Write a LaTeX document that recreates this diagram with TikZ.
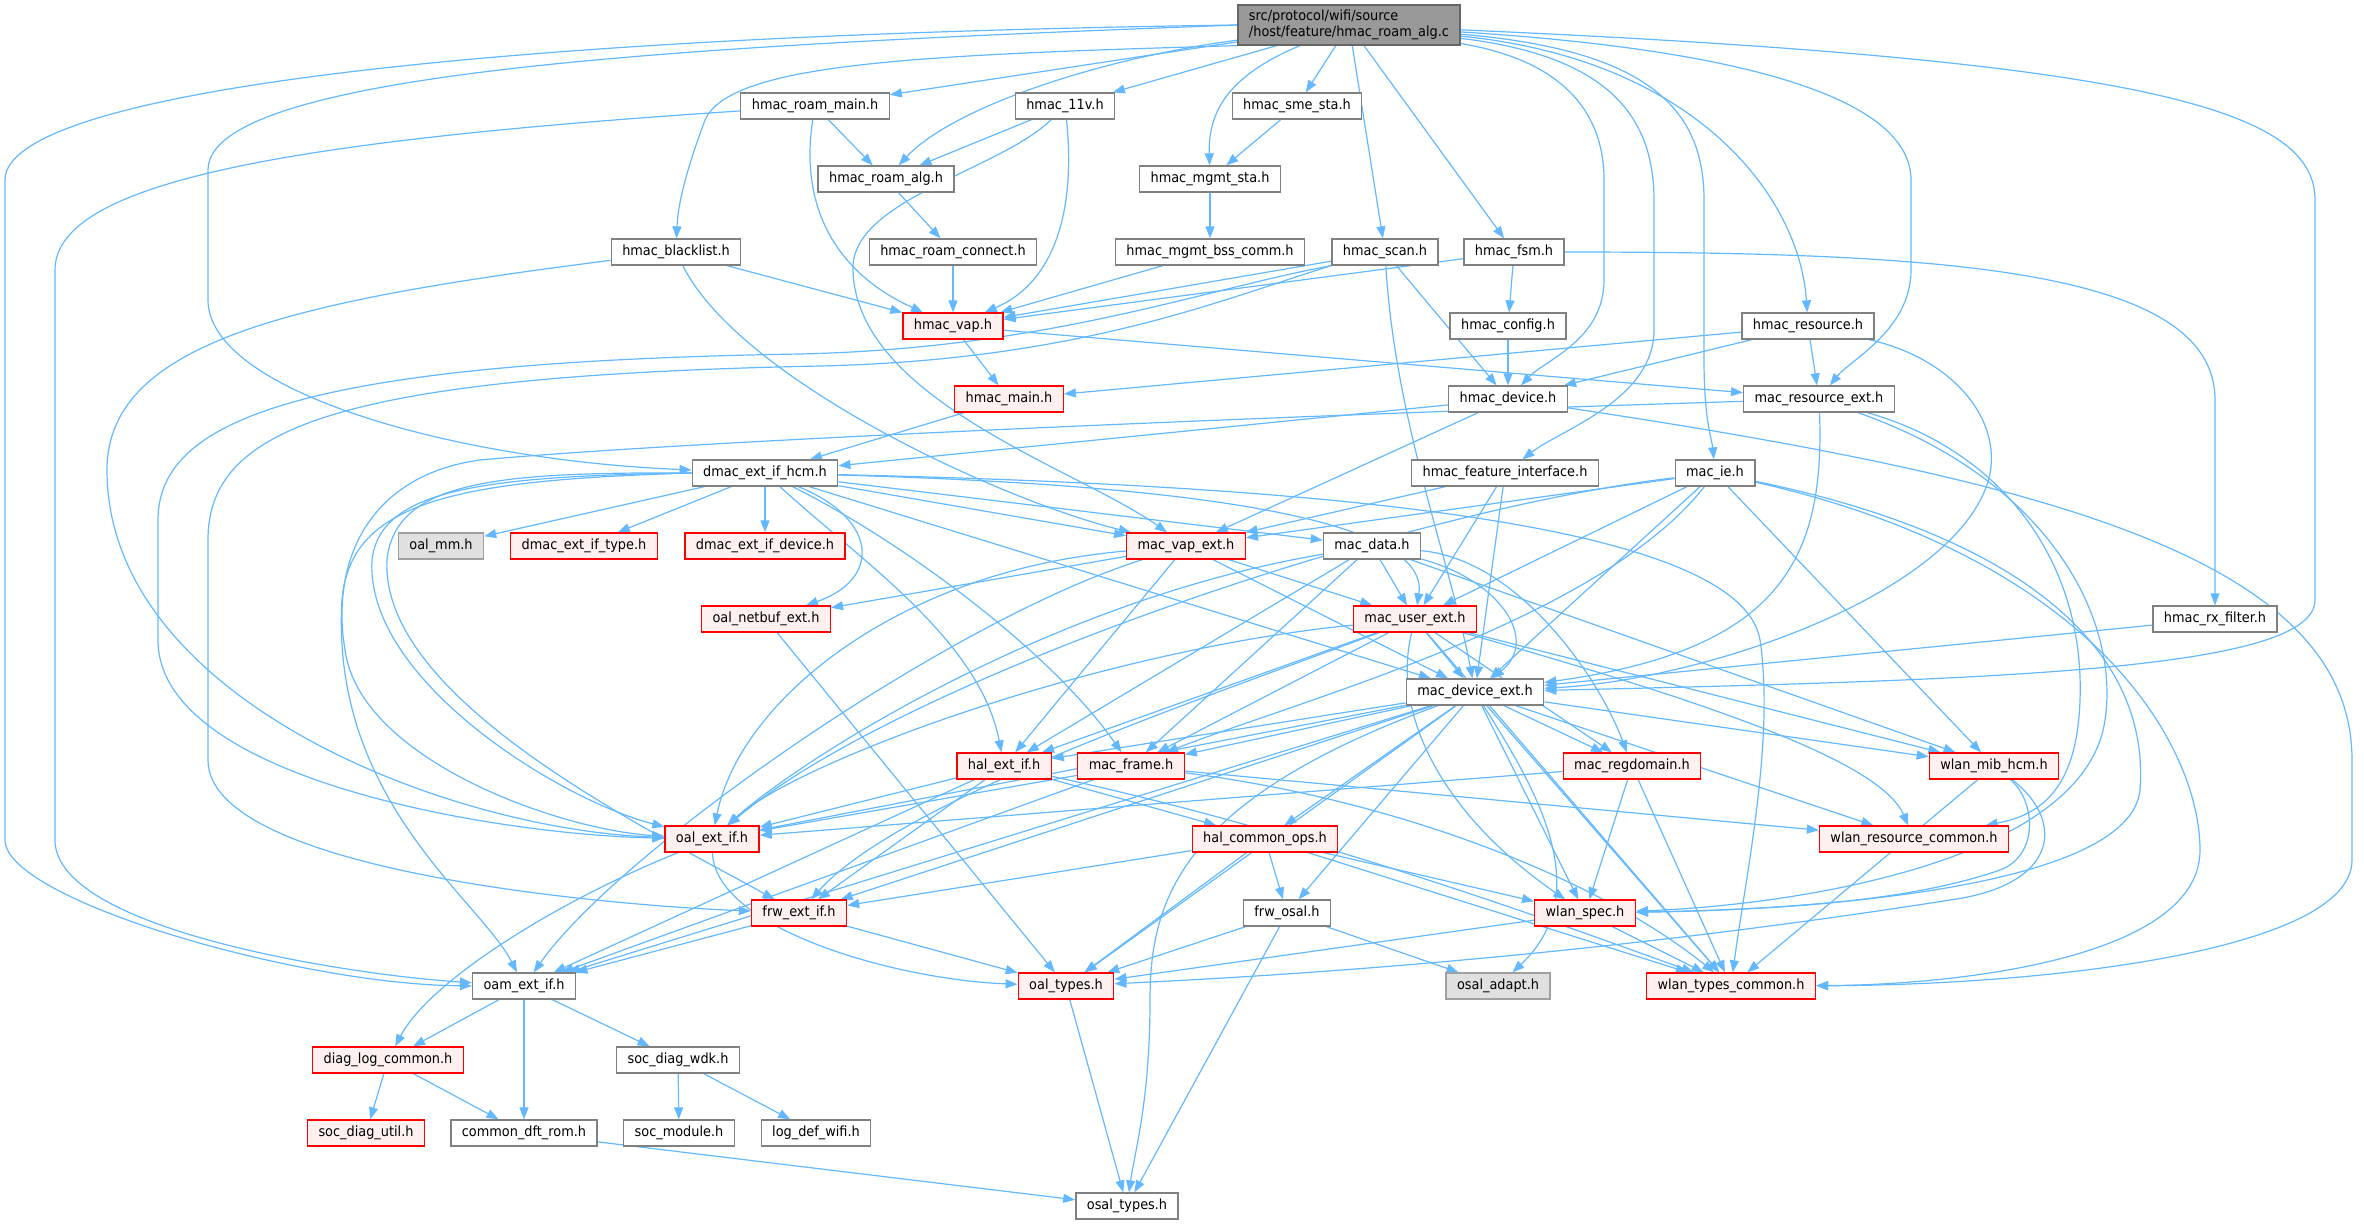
\documentclass[tikz,border=0pt]{standalone}
\usepackage{fontspec}
\setmainfont{DejaVu Sans}[FakeStretch=0.92]
\usetikzlibrary{arrows.meta}
\definecolor{linkblue}{HTML}{63B8FF}
\definecolor{boxgray}{HTML}{808080}
\definecolor{redfill}{HTML}{FFF0F0}
\definecolor{nodocfill}{HTML}{E0E0E0}
\definecolor{nodocline}{HTML}{A0A0A0}
\definecolor{rootfill}{HTML}{999999}
\pgfdeclarelayer{edges}
\pgfsetlayers{edges,main}
\tikzset{
  filebox/.style={draw=boxgray, line width=1.3pt, fill=white, minimum height=26pt, inner xsep=11pt, inner ysep=2pt, font=\fontsize{14}{16}\selectfont},
  redbox/.style={filebox, draw=red, fill=redfill},
  graybox/.style={filebox, draw=nodocline, fill=nodocfill},
  rootbox/.style={filebox, draw=boxgray!80!black, fill=rootfill, align=left, minimum height=40pt},
  incl/.style={draw=linkblue, line width=1.2pt, -{Triangle[length=12pt,width=9pt]}}
}

\begin{document}
\begin{tikzpicture}[x=1pt,y=-1pt]
\useasboundingbox (0,0) rectangle (2364,1224);
\node (root) [rootbox] at (1349,25) {src/protocol/wifi/source\\/host/feature/hmac\_roam\_alg.c};
\node (roammain) [filebox] at (815,106) {hmac\_roam\_main.h};
\node (h11v) [filebox] at (1065,106) {hmac\_11v.h};
\node (smesta) [filebox] at (1297,106) {hmac\_sme\_sta.h};
\node (roamalg) [filebox] at (886,179) {hmac\_roam\_alg.h};
\node (mgmtsta) [filebox] at (1210,179) {hmac\_mgmt\_sta.h};
\node (blacklist) [filebox] at (676,252) {hmac\_blacklist.h};
\node (roamconn) [filebox] at (953,252) {hmac\_roam\_connect.h};
\node (bsscomm) [filebox] at (1210,252) {hmac\_mgmt\_bss\_comm.h};
\node (scan) [filebox] at (1385,252) {hmac\_scan.h};
\node (fsm) [filebox] at (1514,252) {hmac\_fsm.h};
\node (hvap) [redbox] at (953,326) {hmac\_vap.h};
\node (config) [filebox] at (1508,326) {hmac\_config.h};
\node (hres) [filebox] at (1808,326) {hmac\_resource.h};
\node (hmain) [redbox] at (1009,399) {hmac\_main.h};
\node (hdev) [filebox] at (1508,399) {hmac\_device.h};
\node (macres) [filebox] at (1819,399) {mac\_resource\_ext.h};
\node (dmachcm) [filebox] at (765,473) {dmac\_ext\_if\_hcm.h};
\node (featif) [filebox] at (1505,473) {hmac\_feature\_interface.h};
\node (macie) [filebox] at (1715,473) {mac\_ie.h};
\node (oalmm) [graybox] at (441,546) {oal\_mm.h};
\node (dmactype) [redbox] at (584,546) {dmac\_ext\_if\_type.h};
\node (dmacdev) [redbox] at (765,546) {dmac\_ext\_if\_device.h};
\node (macvap) [redbox] at (1186,546) {mac\_vap\_ext.h};
\node (macdata) [filebox] at (1372,546) {mac\_data.h};
\node (netbuf) [redbox] at (766,619) {oal\_netbuf\_ext.h};
\node (macuser) [redbox] at (1415,619) {mac\_user\_ext.h};
\node (rxfilter) [filebox] at (2215,619) {hmac\_rx\_filter.h};
\node (macdev) [filebox] at (1475,692) {mac\_device\_ext.h};
\node (halext) [redbox] at (1004,766) {hal\_ext\_if.h};
\node (macframe) [redbox] at (1131,766) {mac\_frame.h};
\node (regdom) [redbox] at (1632,766) {mac\_regdomain.h};
\node (mibhcm) [redbox] at (1994,766) {wlan\_mib\_hcm.h};
\node (oalext) [redbox] at (712,839) {oal\_ext\_if.h};
\node (halops) [redbox] at (1265,839) {hal\_common\_ops.h};
\node (wlanres) [redbox] at (1914,839) {wlan\_resource\_common.h};
\node (frwext) [redbox] at (799,913) {frw\_ext\_if.h};
\node (frwosal) [filebox] at (1287,913) {frw\_osal.h};
\node (wlanspec) [redbox] at (1585,913) {wlan\_spec.h};
\node (oamext) [filebox] at (524,986) {oam\_ext\_if.h};
\node (oaltypes) [redbox] at (1066,986) {oal\_types.h};
\node (osaladapt) [graybox] at (1498,986) {osal\_adapt.h};
\node (wlantypes) [redbox] at (1731,986) {wlan\_types\_common.h};
\node (diaglog) [redbox] at (388,1060) {diag\_log\_common.h};
\node (wdk) [filebox] at (678,1060) {soc\_diag\_wdk.h};
\node (diagutil) [redbox] at (366,1133) {soc\_diag\_util.h};
\node (dftrom) [filebox] at (524,1133) {common\_dft\_rom.h};
\node (socmod) [filebox] at (679,1133) {soc\_module.h};
\node (logdef) [filebox] at (816,1133) {log\_def\_wifi.h};
\node (osaltypes) [filebox] at (1127,1206) {osal\_types.h};

\begin{pgfonlayer}{edges}
\draw[incl] (root) -- (roammain);
\draw[incl] (root) -- (h11v);
\draw[incl] (root) -- (smesta);
\draw[incl] (root) .. controls (1090,60) and (950,110) .. (roamalg);
\draw[incl] (root) .. controls (1230,75) and (1208,110) .. (mgmtsta);
\draw[incl] (root.south west) .. controls (900,55) and (730,65) .. (705,120) .. controls (690,160) and (678,200) .. (blacklist);
\draw[incl] (root.west) .. controls (700,45) and (208,70) .. (208,170) -- (208,300) .. controls (208,390) and (450,460) .. (dmachcm);
\draw[incl] (root.west) .. controls (500,35) and (5,90) .. (5,180) -- (5,840) .. controls (5,900) and (300,985) .. (oamext);
\draw[incl] (root) -- (scan);
\draw[incl] (root) -- (fsm);
\draw[incl] (root) .. controls (1560,60) and (1604,110) .. (1604,180) -- (1604,280) .. controls (1604,340) and (1545,360) .. (hdev);
\draw[incl] (root) .. controls (1600,55) and (1654,110) .. (1654,200) -- (1654,330) .. controls (1654,400) and (1560,430) .. (featif);
\draw[incl] (root) .. controls (1650,50) and (1704,110) .. (1704,200) -- (1704,360) .. controls (1704,420) and (1712,440) .. (macie);
\draw[incl] (root) .. controls (1700,60) and (1800,200) .. (hres);
\draw[incl] (root) .. controls (1750,50) and (1911,100) .. (1911,180) -- (1911,270) .. controls (1911,330) and (1850,360) .. (macres);
\draw[incl] (root) .. controls (2150,60) and (2315,110) .. (2315,200) -- (2315,600) .. controls (2315,670) and (2000,680) .. (macdev);

\draw[incl] (roammain) -- (roamalg);
\draw[incl] (roammain) .. controls (800,200) and (830,270) .. (hvap);
\draw[incl] (roammain) .. controls (300,140) and (55,180) .. (55,270) -- (55,840) .. controls (55,930) and (350,975) .. (oamext);
\draw[incl] (h11v) -- (roamalg);
\draw[incl] (h11v) .. controls (1075,200) and (1060,280) .. (hvap);
\draw[incl] (h11v) .. controls (1000,170) and (850,200) .. (853,270) .. controls (856,400) and (1080,470) .. (macvap);
\draw[incl] (smesta) -- (mgmtsta);
\draw[incl] (roamalg) -- (roamconn);
\draw[incl] (mgmtsta) -- (bsscomm);
\draw[incl] (roamconn) -- (hvap);
\draw[incl] (bsscomm) -- (hvap);

\draw[incl] (blacklist) -- (hvap);
\draw[incl] (blacklist) .. controls (300,300) and (107,340) .. (107,470) .. controls (107,700) and (450,830) .. (oalext);
\draw[incl] (blacklist) .. controls (740,380) and (1000,500) .. (macvap);
\draw[incl] (scan) -- (hvap);
\draw[incl] (scan.south west) .. controls (1200,290) and (1050,348) .. (800,354) .. controls (300,362) and (158,420) .. (158,520) -- (158,640) .. controls (158,780) and (500,835) .. (oalext);
\draw[incl] (scan.south west) .. controls (1220,300) and (1080,360) .. (820,366) .. controls (330,376) and (208,430) .. (208,540) -- (208,760) .. controls (208,870) and (600,905) .. (frwext);
\draw[incl] (scan) -- (hdev);
\draw[incl] (scan) .. controls (1395,420) and (1450,560) .. (macdev);
\draw[incl] (fsm) -- (hvap);
\draw[incl] (fsm) -- (config);
\draw[incl] (fsm) .. controls (1950,252) and (2215,270) .. (2215,400) -- (rxfilter);
\draw[incl] (config) -- (hdev);
\draw[incl] (hvap) -- (hmain);
\draw[incl] (hvap) -- (macres);
\draw[incl] (hres) -- (hmain);
\draw[incl] (hres) -- (hdev);
\draw[incl] (hres) -- (macres);
\draw[incl] (hres) .. controls (1960,360) and (2010,430) .. (1985,490) .. controls (1940,600) and (1700,680) .. (macdev);
\draw[incl] (hmain) -- (dmachcm);
\draw[incl] (hdev) -- (dmachcm);
\draw[incl] (hdev) -- (macvap);
\draw[incl] (hdev) .. controls (2050,480) and (2352,560) .. (2352,760) -- (2352,860) .. controls (2352,950) and (2050,985) .. (wlantypes);
\draw[incl] (macres) .. controls (1300,415) and (700,440) .. (480,460) .. controls (370,475) and (330,560) .. (345,650) .. controls (360,760) and (560,830) .. (oalext);
\draw[incl] (macres) .. controls (1825,560) and (1780,650) .. (macdev);
\draw[incl] (macres) .. controls (2050,480) and (2120,620) .. (2105,720) .. controls (2085,860) and (1800,905) .. (wlanspec);
\draw[incl] (macres) .. controls (2000,450) and (2085,560) .. (2080,700) .. controls (2077,790) and (2040,815) .. (wlanres);

\draw[incl] (dmachcm) -- (oalmm);
\draw[incl] (dmachcm) -- (dmactype);
\draw[incl] (dmachcm) -- (dmacdev);
\draw[incl] (dmachcm) -- (macvap);
\draw[incl] (dmachcm) -- (macdata);
\draw[incl] (dmachcm) .. controls (1200,485) and (1430,520) .. (macuser);
\draw[incl] (dmachcm) -- (macdev);
\draw[incl] (dmachcm) .. controls (1300,485) and (1740,520) .. (1760,640) .. controls (1775,740) and (1745,880) .. (wlantypes);
\draw[incl] (dmachcm) .. controls (880,520) and (880,580) .. (netbuf);
\draw[incl] (dmachcm.west) .. controls (480,476) and (380,490) .. (372,560) .. controls (365,680) and (560,800) .. (oalext);
\draw[incl] (dmachcm.west) .. controls (460,480) and (350,500) .. (342,600) .. controls (330,800) and (480,900) .. (oamext);
\draw[incl] (dmachcm.west) .. controls (500,472) and (395,480) .. (387,560) .. controls (380,700) and (650,830) .. (frwext);
\draw[incl] (dmachcm) .. controls (860,560) and (980,640) .. (halext);
\draw[incl] (dmachcm) .. controls (900,540) and (1050,650) .. (macframe);

\draw[incl] (macvap) -- (netbuf);
\draw[incl] (macvap) .. controls (900,570) and (740,700) .. (oalext);
\draw[incl] (macvap) .. controls (950,620) and (620,850) .. (oamext);
\draw[incl] (macvap) -- (halext);
\draw[incl] (macvap) -- (macuser);
\draw[incl] (macvap) -- (macdev);
\draw[incl] (macdata) -- (macuser);
\draw[incl] (macdata) .. controls (1500,580) and (1540,640) .. (macdev);
\draw[incl] (macdata) -- (macframe);
\draw[incl] (macdata) -- (halext);
\draw[incl] (macdata) .. controls (1520,560) and (1600,680) .. (regdom);
\draw[incl] (macdata) -- (mibhcm);
\draw[incl] (macdata) .. controls (1050,600) and (800,760) .. (oalext);
\draw[incl] (netbuf) -- (oaltypes);
\draw[incl] (featif) -- (macvap);
\draw[incl] (featif) -- (macuser);
\draw[incl] (featif) -- (macdev);
\draw[incl] (macie) -- (macvap);
\draw[incl] (macie) -- (macuser);
\draw[incl] (macie) .. controls (1600,620) and (1300,700) .. (macframe);
\draw[incl] (macie) -- (mibhcm);
\draw[incl] (macie) -- (macdev);
\draw[incl] (macie) .. controls (1400,510) and (900,680) .. (oalext);
\draw[incl] (macie) .. controls (2100,560) and (2200,750) .. (2200,850) .. controls (2200,960) and (1950,985) .. (wlantypes);
\draw[incl] (macie) .. controls (2040,540) and (2150,660) .. (2140,790) .. controls (2130,890) and (1800,910) .. (wlanspec);

\draw[incl] (macuser) -- (macdev);
\draw[incl] (macuser) -- (halext);
\draw[incl] (macuser) -- (macframe);
\draw[incl] (macuser) -- (regdom);
\draw[incl] (macuser) -- (mibhcm);
\draw[incl] (macuser) .. controls (1100,650) and (800,760) .. (oalext);
\draw[incl] (macuser) .. controls (1200,700) and (900,800) .. (frwext);
\draw[incl] (macuser) .. controls (1390,720) and (1450,820) .. (wlanspec);
\draw[incl] (macuser) -- (wlantypes);
\draw[incl] (macuser) .. controls (1700,700) and (1880,760) .. (wlanres);
\draw[incl] (rxfilter) -- (macdev);

\draw[incl] (macdev) -- (halext);
\draw[incl] (macdev) -- (macframe);
\draw[incl] (macdev) -- (oalext);
\draw[incl] (macdev) -- (frwext);
\draw[incl] (macdev) -- (oamext);
\draw[incl] (macdev) -- (oaltypes);
\draw[incl] (macdev) -- (frwosal);
\draw[incl] (macdev) -- (halops);
\draw[incl] (macdev) -- (regdom);
\draw[incl] (macdev) -- (mibhcm);
\draw[incl] (macdev) -- (wlanres);
\draw[incl] (macdev) -- (wlanspec);
\draw[incl] (macdev) -- (wlantypes);
\draw[incl] (macdev) .. controls (1180,800) and (1150,900) .. (1150,1000) .. controls (1150,1100) and (1135,1150) .. (osaltypes);
\draw[incl] (macdev) .. controls (1530,780) and (1600,890) .. (osaladapt);

\draw[incl] (halext) -- (oalext);
\draw[incl] (halext) -- (oamext);
\draw[incl] (halext) -- (frwext);
\draw[incl] (halext) -- (halops);
\draw[incl] (halext) .. controls (1300,830) and (1550,920) .. (wlantypes);
\draw[incl] (macframe) -- (oalext);
\draw[incl] (macframe) -- (oamext);
\draw[incl] (macframe) -- (wlanres);
\draw[incl] (macframe) .. controls (1400,800) and (1600,880) .. (wlantypes);
\draw[incl] (regdom) -- (oalext);
\draw[incl] (regdom) -- (wlanspec);
\draw[incl] (regdom) -- (wlantypes);
\draw[incl] (mibhcm) -- (wlantypes);
\draw[incl] (mibhcm) .. controls (2035,800) and (2040,855) .. (2000,870) .. controls (1900,905) and (1750,910) .. (wlanspec);
\draw[incl] (mibhcm) .. controls (2065,820) and (2060,885) .. (1950,900) .. controls (1600,955) and (1300,975) .. (oaltypes);

\draw[incl] (oalext) .. controls (715,930) and (900,980) .. (oaltypes);
\draw[incl] (oalext) .. controls (560,900) and (430,980) .. (diaglog);
\draw[incl] (halops) -- (frwext);
\draw[incl] (halops) -- (frwosal);
\draw[incl] (halops) -- (oaltypes);
\draw[incl] (halops) -- (wlanspec);
\draw[incl] (halops) -- (wlantypes);
\draw[incl] (frwext) -- (oamext);
\draw[incl] (frwext) -- (oaltypes);
\draw[incl] (frwosal) -- (oaltypes);
\draw[incl] (frwosal) -- (osaladapt);
\draw[incl] (frwosal) -- (osaltypes);
\draw[incl] (wlanspec) -- (oaltypes);
\draw[incl] (wlanspec) -- (wlantypes);
\draw[incl] (oamext) -- (diaglog);
\draw[incl] (oamext) -- (dftrom);
\draw[incl] (oamext) -- (wdk);
\draw[incl] (oaltypes) -- (osaltypes);
\draw[incl] (diaglog) -- (diagutil);
\draw[incl] (diaglog) -- (dftrom);
\draw[incl] (wdk) -- (socmod);
\draw[incl] (wdk) -- (logdef);
\draw[incl] (dftrom) -- (osaltypes);
\end{pgfonlayer}
\end{tikzpicture}
\end{document}
